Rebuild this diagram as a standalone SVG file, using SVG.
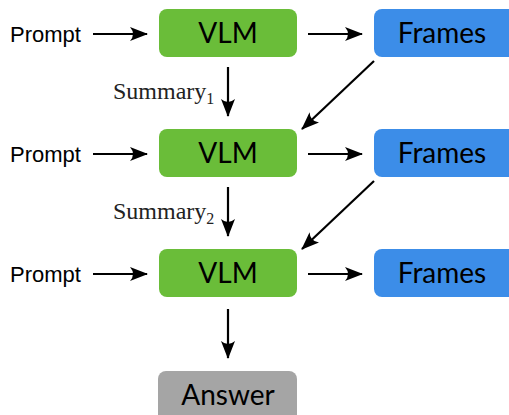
<svg xmlns="http://www.w3.org/2000/svg" width="509" height="415" viewBox="0 0 509 415">
  <style>
    .vlm { fill: #6abd39; }
    .frames { fill: #3c8de8; }
    .answer { fill: #a5a5a5; }
    .box-label { font-family: Lato, "Open Sans", sans-serif; font-size: 28px; fill: #000; text-anchor: middle; }
    .prompt { font-family: "Liberation Sans", Arial, sans-serif; font-size: 22px; fill: #000; }
    .summary { font-family: "Liberation Serif", "DejaVu Serif", serif; font-size: 24px; fill: #222; }
    .edge { stroke: #000; stroke-width: 2.2; fill: none; marker-end: url(#head); }
  </style>
  <defs>
    <!-- barbed arrowhead with concave back -->
    <marker id="head" viewBox="0 0 18 14" refX="17" refY="7" markerWidth="18" markerHeight="14" markerUnits="userSpaceOnUse" orient="auto">
      <path d="M0,0 L18,7 L0,14 Q6,7 0,0 Z" fill="#000"/>
    </marker>
  </defs>

  <rect width="509" height="415" fill="#fff"/>

  <!-- prompts -->
  <g id="prompt1"><text class="prompt" x="10" y="42">Prompt</text></g>
  <g id="prompt2"><text class="prompt" x="10" y="162">Prompt</text></g>
  <g id="prompt3"><text class="prompt" x="10" y="282">Prompt</text></g>

  <!-- model stages -->
  <g id="vlm1">
    <rect class="vlm" x="159" y="9" width="138" height="48" rx="8"/>
    <text class="box-label" x="228" y="43">VLM</text>
  </g>
  <g id="vlm2">
    <rect class="vlm" x="159" y="129" width="138" height="48" rx="8"/>
    <text class="box-label" x="228" y="163">VLM</text>
  </g>
  <g id="vlm3">
    <rect class="vlm" x="159" y="249" width="138" height="48" rx="8"/>
    <text class="box-label" x="228" y="283">VLM</text>
  </g>

  <!-- frame selections -->
  <g id="frames1">
    <rect class="frames" x="374" y="9" width="150" height="48" rx="8"/>
    <text class="box-label" x="442" y="43">Frames</text>
  </g>
  <g id="frames2">
    <rect class="frames" x="374" y="129" width="150" height="48" rx="8"/>
    <text class="box-label" x="442" y="163">Frames</text>
  </g>
  <g id="frames3">
    <rect class="frames" x="374" y="249" width="150" height="48" rx="8"/>
    <text class="box-label" x="442" y="283">Frames</text>
  </g>

  <!-- final output -->
  <g id="answer">
    <rect class="answer" x="158" y="371" width="139" height="60" rx="8"/>
    <text class="box-label" x="228" y="405">Answer</text>
  </g>

  <!-- summary labels -->
  <g id="summary1"><text class="summary" x="113" y="99">Summary<tspan font-size="16" dy="5">1</tspan></text></g>
  <g id="summary2"><text class="summary" x="113" y="219">Summary<tspan font-size="16" dy="5">2</tspan></text></g>

  <!-- connectors -->
  <g id="edges">
    <line class="edge" x1="93" y1="34" x2="147" y2="34"/>
    <line class="edge" x1="93" y1="154" x2="147" y2="154"/>
    <line class="edge" x1="93" y1="274" x2="147" y2="274"/>
    <line class="edge" x1="308" y1="34" x2="362" y2="34"/>
    <line class="edge" x1="308" y1="154" x2="362" y2="154"/>
    <line class="edge" x1="308" y1="274" x2="362" y2="274"/>
    <line class="edge" x1="228" y1="67" x2="228" y2="116"/>
    <line class="edge" x1="228" y1="187" x2="228" y2="236"/>
    <line class="edge" x1="228" y1="309" x2="228" y2="358"/>
    <line class="edge" x1="374" y1="61" x2="302" y2="129"/>
    <line class="edge" x1="374" y1="181" x2="302" y2="249"/>
  </g>
</svg>
